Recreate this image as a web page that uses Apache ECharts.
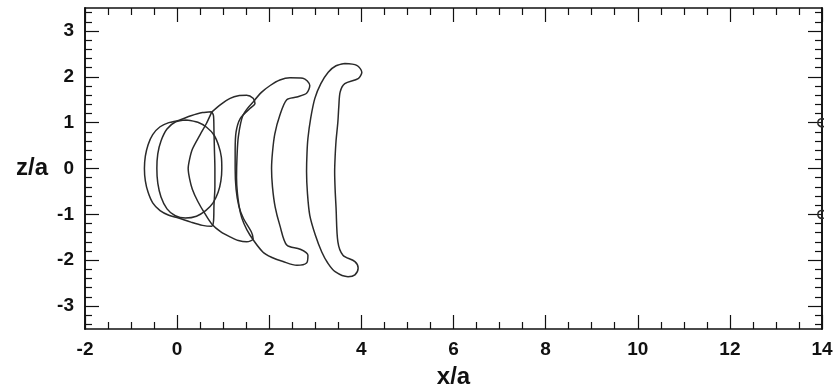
<!DOCTYPE html>
<html>
<head>
<meta charset="utf-8">
<script src="https://cdn.jsdelivr.net/npm/echarts@6/dist/echarts.min.js"></script>
<style>
  html, body { margin: 0; padding: 0; background: #fff; }
  #chart { width: 835px; height: 389px; }
</style>
</head>
<body>
<div id="chart"></div>
<script>
// Interface contours in the x/a – z/a plane, one closed loop per snapshot.
const contour1 = [[0.20,1.06],[0.45,1.01],[0.64,0.90],[0.80,0.73],[0.90,0.50],[0.96,0.25],[0.97,0.0],[0.95,-0.27],[0.89,-0.52],[0.78,-0.75],[0.62,-0.92],[0.42,-1.04],[0.18,-1.08],[-0.04,-1.03],[-0.22,-0.88],[-0.35,-0.62],[-0.42,-0.32],[-0.44,0.0],[-0.42,0.32],[-0.35,0.60],[-0.22,0.86],[-0.03,1.02],[0.20,1.06]];
const contour2 = [[0.75,1.24],[0.55,1.22],[0.30,1.15],[0.03,1.05],[-0.18,1.00],[-0.37,0.91],[-0.53,0.74],[-0.63,0.52],[-0.69,0.27],[-0.71,0.0],[-0.69,-0.27],[-0.63,-0.52],[-0.53,-0.75],[-0.37,-0.92],[-0.18,-1.02],[0.03,-1.08],[0.30,-1.17],[0.55,-1.24],[0.75,-1.26],[0.79,-1.15],[0.80,-0.80],[0.82,-0.40],[0.82,0.0],[0.81,0.40],[0.80,0.80],[0.79,1.15],[0.75,1.24]];
const contour3 = [[0.75,1.23],[0.95,1.40],[1.15,1.53],[1.35,1.59],[1.51,1.60],[1.65,1.53],[1.69,1.42],[1.58,1.31],[1.37,1.09],[1.28,0.80],[1.26,0.40],[1.26,0.0],[1.28,-0.45],[1.34,-0.82],[1.44,-1.09],[1.61,-1.38],[1.65,-1.53],[1.51,-1.60],[1.33,-1.57],[1.15,-1.49],[0.95,-1.38],[0.76,-1.22],[0.60,-0.98],[0.45,-0.72],[0.33,-0.45],[0.27,-0.22],[0.24,0.0],[0.27,0.20],[0.33,0.42],[0.50,0.74],[0.63,0.97],[0.75,1.23]];
const contour4 = [[1.65,1.45],[1.83,1.66],[2.02,1.81],[2.23,1.93],[2.45,1.98],[2.73,1.97],[2.88,1.81],[2.81,1.64],[2.60,1.56],[2.38,1.50],[2.23,1.16],[2.12,0.75],[2.07,0.35],[2.05,0.0],[2.07,-0.40],[2.13,-0.85],[2.23,-1.24],[2.38,-1.67],[2.67,-1.76],[2.84,-1.89],[2.81,-2.06],[2.60,-2.11],[2.30,-2.03],[2.06,-1.94],[1.86,-1.82],[1.58,-1.45],[1.45,-1.20],[1.37,-0.95],[1.31,-0.55],[1.29,-0.20],[1.30,0.25],[1.33,0.70],[1.43,1.16],[1.65,1.45]];
const contour5 = [[3.64,2.29],[3.90,2.25],[4.01,2.10],[3.93,1.96],[3.64,1.85],[3.54,1.67],[3.51,1.35],[3.49,1.02],[3.45,0.60],[3.43,0.25],[3.42,-0.07],[3.43,-0.45],[3.45,-0.85],[3.49,-1.60],[3.60,-1.89],[3.86,-2.03],[3.93,-2.17],[3.86,-2.32],[3.71,-2.36],[3.43,-2.25],[3.27,-2.06],[3.14,-1.82],[3.00,-1.45],[2.88,-1.02],[2.83,-0.55],[2.81,-0.07],[2.82,0.35],[2.84,0.66],[2.90,1.10],[2.99,1.53],[3.12,1.85],[3.28,2.10],[3.45,2.24],[3.64,2.29]];
// Small loops sitting on the right boundary
const edgeRingUpper = [[14.0,1.09],[13.93,1.06],[13.91,1.0],[13.93,0.94],[14.0,0.91],[14.07,0.94],[14.09,1.0],[14.07,1.06],[14.0,1.09]];
const edgeRingLower = [[14.0,-0.91],[13.93,-0.94],[13.91,-1.0],[13.93,-1.06],[14.0,-1.09],[14.07,-1.06],[14.09,-1.0],[14.07,-0.94],[14.0,-0.91]];

// Axis ticks
const yMajorTicks = [-3, -2, -1, 0, 1, 2, 3];
const yMinorTicks = [-3.4,-3.2,-2.8,-2.6,-2.4,-2.2,-1.8,-1.6,-1.4,-1.2,-0.8,-0.6,-0.4,-0.2,0.2,0.4,0.6,0.8,1.2,1.4,1.6,1.8,2.2,2.4,2.6,2.8,3.2,3.4];

const FONT = '"Liberation Sans", Arial, sans-serif';
const INK = '#111';
const frameLine = { show: true, onZero: false, lineStyle: { color: INK, width: 1.6 } };
const tickStyle = { color: INK, width: 1.2 };

function xAxisDef(pos, withLabels) {
  const a = {
    type: 'value', position: pos, min: -2, max: 14, interval: 2,
    axisLine: frameLine,
    axisTick: { inside: true, length: 14, lineStyle: tickStyle },
    minorTick: { show: true, splitNumber: 4, length: 7, lineStyle: tickStyle },
    axisLabel: { show: withLabels, fontFamily: FONT, fontWeight: 'bold', fontSize: 19, color: INK, margin: 11 },
    splitLine: { show: false }, minorSplitLine: { show: false }
  };
  if (withLabels) {
    a.name = 'x/a';
    a.nameLocation = 'middle';
    a.nameGap = 36;
    a.nameTextStyle = { fontFamily: FONT, fontWeight: 'bold', fontSize: 24, color: INK };
  }
  return a;
}

function yAxisDef(pos, ticks, len, withLabels) {
  const a = {
    type: 'value', position: pos, min: -3.5, max: 3.5,
    axisLine: frameLine,
    axisTick: { inside: true, length: len, customValues: ticks, lineStyle: tickStyle },
    axisLabel: withLabels
      ? { show: true, customValues: ticks, fontFamily: FONT, fontWeight: 'bold', fontSize: 19, color: INK, margin: 11 }
      : { show: false },
    splitLine: { show: false }
  };
  if (withLabels) {
    a.name = 'z/a';
    a.nameLocation = 'middle';
    a.nameRotate = 0;
    a.nameGap = 37;
    a.nameTextStyle = { fontFamily: FONT, fontWeight: 'bold', fontSize: 24, color: INK };
  }
  return a;
}

function contourSeries(data) {
  return {
    type: 'line', data: data, xAxisIndex: 0, yAxisIndex: 0,
    showSymbol: false, smooth: 0.3, clip: true,
    lineStyle: { color: '#2a2a2a', width: 1.5 },
    silent: true, animation: false
  };
}

const chart = echarts.init(document.getElementById('chart'), null, { renderer: 'canvas' });
chart.setOption({
  backgroundColor: '#fff',
  animation: false,
  grid: { left: 85, right: 13, top: 8, bottom: 60, containLabel: false, outerBoundsMode: 'none' },
  xAxis: [xAxisDef('bottom', true), xAxisDef('top', false)],
  yAxis: [
    yAxisDef('left', yMajorTicks, 14, true),
    yAxisDef('left', yMinorTicks, 7, false),
    yAxisDef('right', yMajorTicks, 14, false),
    yAxisDef('right', yMinorTicks, 7, false)
  ],
  series: [contour1, contour2, contour3, contour4, contour5, edgeRingUpper, edgeRingLower].map(contourSeries)
});
</script>
</body>
</html>
